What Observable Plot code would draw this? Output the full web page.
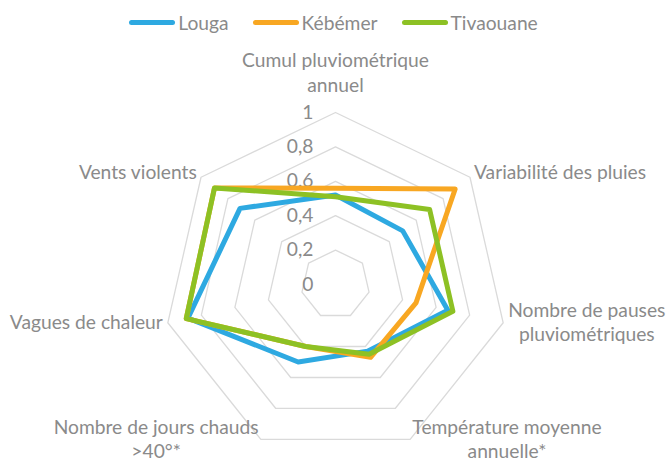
<!DOCTYPE html>
<html><head><meta charset="utf-8">
<script src="https://cdn.jsdelivr.net/npm/d3@7"></script>
<script src="https://cdn.jsdelivr.net/npm/@observablehq/plot@0.6"></script>
<style>
html,body{margin:0;padding:0;background:#fff;}
#legend{height:44px;display:flex;justify-content:center;align-items:center;gap:24px;color:#8a8a8a;}
.item{display:flex;align-items:center;gap:3px;}
.sw{width:46px;height:5px;border-radius:3px;}
</style></head>
<body>
<div id="legend"></div>
<div id="chart"></div>
<script>
const categories = [
  "Cumul pluviométrique\nannuel",
  "Variabilité des pluies",
  "Nombre de pauses\npluviométriques",
  "Température moyenne\nannuelle*",
  "Nombre de jours chauds\n>40°*",
  "Vagues de chaleur",
  "Vents violents"
];
const seriesNames = ["Louga", "Kébémer", "Tivaouane"];
const louga     = [0.52, 0.50, 0.67, 0.43, 0.50, 0.88, 0.71];
const kebemer   = [0.56, 0.89, 0.48, 0.47, 0.40, 0.89, 0.90];
const tivaouane = [0.51, 0.70, 0.70, 0.45, 0.40, 0.89, 0.90];
const tickValues = [0, 0.2, 0.4, 0.6, 0.8, 1];
const tickLabels = ["0", "0,2", "0,4", "0,6", "0,8", "1"];
const colors = ["#2ea9e1", "#f8a722", "#8dc124"];

const FONT = "Lato, 'Open Sans', sans-serif";
const textColor = "#8a8a8a";
const gridColor = "#dadada";

const cv = document.createElement("canvas").getContext("2d");
function tw(s, fs) { cv.font = fs + "px " + FONT; return cv.measureText(s).width; }
let fs = 153 / tw("Vagues de chaleur", 100) * 100;
if (!isFinite(fs) || fs < 10 || fs > 26) fs = 18;

document.body.style.fontFamily = FONT;
const legend = document.getElementById("legend");
legend.style.fontSize = fs + "px";
seriesNames.forEach((name, i) => {
  const it = document.createElement("div"); it.className = "item";
  const sw = document.createElement("div"); sw.className = "sw"; sw.style.background = colors[i];
  const lb = document.createElement("span"); lb.textContent = name;
  it.appendChild(sw); it.appendChild(lb); legend.appendChild(it);
});

const W = 667, H = 417, CX = 335, CY = 240, R = 172;
const n = categories.length;
const ang = i => -Math.PI / 2 + i * 2 * Math.PI / n;
const px = (r, i) => r * Math.cos(ang(i));
const py = (r, i) => -r * Math.sin(ang(i));

const rings = [];
tickValues.filter(v => v > 0).forEach(v => {
  for (let i = 0; i < n; i++) rings.push({ring: v, x: px(v, i), y: py(v, i)});
});

const seriesValues = [louga, kebemer, tivaouane];
const rows = [];
seriesNames.forEach((s, si) => {
  seriesValues[si].forEach((v, i) => rows.push({series: s, x: px(v, i), y: py(v, i)}));
});

const ticks = tickValues.map((v, i) => ({v, label: tickLabels[i]}));

const labels = categories.map((c, i) => {
  const cos = Math.cos(ang(i)), sin = Math.sin(ang(i));
  const w = Math.max(...c.split("\n").map(l => tw(l, fs))) / R;
  if (i === 0) return {text: c, x: px(1.12, i), y: py(1.12, i), top: true};
  const sgn = cos > 0.05 ? 1 : (cos < -0.05 ? -1 : 0);
  const lift = (sin > 0.5 ? 6 : 3) / R;
  return {text: c, x: px(1.03, i) + sgn * w / 2, y: py(1.03, i) + lift, top: false};
});

const chart = Plot.plot({
  width: W, height: H, margin: 0,
  style: {fontFamily: FONT, background: "#fff"},
  x: {domain: [-CX / R, (W - CX) / R], axis: null},
  y: {domain: [-(H - CY) / R, CY / R], axis: null},
  color: {domain: seriesNames, range: colors},
  marks: [
    Plot.line(rings, {x: "x", y: "y", z: "ring", curve: "linear-closed", stroke: gridColor, strokeWidth: 1.3}),
    Plot.text(ticks, {x: 0, y: "v", text: "label", textAnchor: "end", dx: -22, fill: textColor, fontSize: fs}),
    Plot.line(rows, {x: "x", y: "y", z: "series", stroke: "series", curve: "linear-closed", strokeWidth: 5, strokeLinejoin: "round"}),
    Plot.text(labels.filter(d => d.top), {x: "x", y: "y", text: "text", textAnchor: "middle", lineAnchor: "bottom", lineHeight: 1.3, fill: textColor, fontSize: fs}),
    Plot.text(labels.filter(d => !d.top), {x: "x", y: "y", text: "text", textAnchor: "middle", lineAnchor: "middle", lineHeight: 1.25, fill: textColor, fontSize: fs})
  ]
});
document.getElementById("chart").appendChild(chart);
</script>
</body></html>
